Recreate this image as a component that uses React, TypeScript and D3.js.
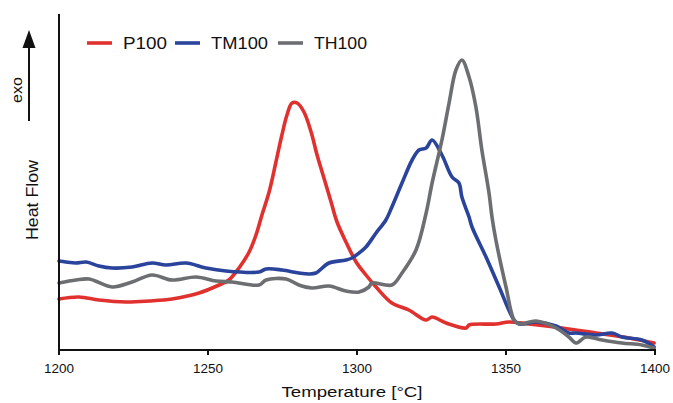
import React from "react";
import * as d3 from "d3";

// Temperature [°C] and heat flow (arbitrary units)
const p100T = [1200, 1206.7, 1213.4, 1222.5, 1230.2, 1237.9, 1247, 1253.7, 1257, 1260.4, 1263.8, 1266.1, 1268.1, 1270.5, 1272.8, 1274.8, 1276.5, 1278.2, 1279.9, 1282.2, 1284.6, 1286.6, 1288.9, 1291.3, 1293.3, 1296.3, 1299.7, 1303, 1306.4, 1311.7, 1317.4, 1323.2, 1325.2, 1329.9, 1336.6, 1337.6, 1346.6, 1351, 1357.7, 1368.8, 1380.2, 1391.3, 1399.7];
const p100V = [49, 51, 48, 46, 47, 49, 55, 63, 68, 80, 96, 113, 133, 156, 186, 213, 233, 245, 245, 236, 216, 193, 170, 146, 126, 106, 86, 73, 61, 45, 38, 28, 31, 25, 20, 23, 24, 26, 24, 20, 15, 10, 5];

const tm100T = [1200, 1202.3, 1205.7, 1209.1, 1213.4, 1217.8, 1224.5, 1231.2, 1235.9, 1242.6, 1249.3, 1256, 1267.1, 1269.5, 1274.8, 1280.5, 1283.9, 1286.2, 1290.6, 1296.3, 1298.3, 1300.7, 1303, 1306.4, 1309.7, 1311.7, 1315.1, 1318.5, 1320.8, 1323.2, 1325.2, 1328.5, 1331.9, 1334.2, 1335.2, 1337.6, 1338.6, 1343.3, 1347.7, 1352.7, 1354.4, 1360.1, 1366.8, 1371.1, 1373.5, 1380.2, 1385.6, 1388.9, 1395.6, 1399.7];
const tm100V = [87, 86, 85, 86, 82, 80, 81, 85, 83, 85, 80, 77, 76, 79, 78, 75, 74, 75, 85, 88, 90, 95, 101, 115, 128, 141, 165, 188, 198, 200, 208, 193, 171, 165, 151, 131, 121, 91, 61, 28, 24, 26, 22, 15, 15, 13, 15, 11, 8, 1];

const th100T = [1200, 1205.7, 1210.1, 1217.8, 1224.5, 1231.2, 1237.9, 1246, 1252.7, 1258.1, 1267.1, 1269.5, 1276.2, 1280.5, 1284.9, 1290.6, 1296.3, 1300.7, 1304, 1305, 1311.7, 1315.1, 1319.8, 1323.2, 1325.2, 1328.5, 1330.9, 1333.2, 1335.2, 1337.6, 1339.9, 1341.9, 1344.3, 1345.3, 1346.6, 1350, 1352.7, 1354.4, 1360.1, 1366.8, 1371.1, 1373.5, 1376.8, 1382.2, 1388.9, 1395.6, 1399.7];
const th100V = [65, 68, 69, 61, 66, 73, 68, 71, 67, 66, 63, 68, 69, 63, 60, 62, 57, 56, 61, 65, 63, 75, 98, 135, 165, 208, 245, 278, 288, 271, 241, 198, 155, 131, 108, 61, 28, 24, 27, 20, 11, 5, 11, 8, 5, 3, 0];

const seriesNames = ["P100", "TM100", "TH100"];
const seriesColors = ["#e0312f", "#2a449b", "#6c6e71"];
const xTicks = [1200, 1250, 1300, 1350, 1400];

export default function App() {
  const W = 673, H = 403;
  const left = 59, right = 655, top = 14, bottom = 350;
  const x = d3.scaleLinear().domain([1200, 1400]).range([left, right]);
  const y = d3.scaleLinear().domain([-2, 334]).range([bottom, top]);
  const line = d3
    .line<[number, number]>()
    .x((d) => x(d[0]))
    .y((d) => y(d[1]))
    .curve(d3.curveCatmullRom.alpha(0.5));

  const series = [
    d3.zip(p100T, p100V) as [number, number][],
    d3.zip(tm100T, tm100V) as [number, number][],
    d3.zip(th100T, th100V) as [number, number][],
  ];
  const drawOrder = [0, 1, 2];

  const legendX = [87, 175, 278];
  const legendTextLen = [44, 57, 53];
  const font = "'Liberation Sans', Arial, Helvetica, sans-serif";

  return (
    <svg width={W} height={H} style={{ position: "absolute", left: 0, top: 0, background: "#fff" }} fontFamily={font}>
      <rect x={0} y={0} width={W} height={H} fill="#fff" />
      {drawOrder.map((i) => (
        <path key={i} d={line(series[i]) || ""} fill="none" stroke={seriesColors[i]} strokeWidth={3.6} strokeLinejoin="round" strokeLinecap="round" />
      ))}
      {/* axes */}
      <line x1={left} y1={top} x2={left} y2={bottom} stroke="#111" strokeWidth={2} />
      <line x1={left - 1} y1={bottom} x2={right + 1} y2={bottom} stroke="#111" strokeWidth={2} />
      {xTicks.map((t) => (
        <g key={t}>
          <line x1={x(t)} y1={bottom} x2={x(t)} y2={bottom + 5} stroke="#111" strokeWidth={2} />
          <text x={x(t)} y={373} textAnchor="middle" fontSize={12.5} fill="#111" textLength={30} lengthAdjust="spacingAndGlyphs">
            {t}
          </text>
        </g>
      ))}
      <text x={352} y={397} textAnchor="middle" fontSize={15.5} fill="#111" textLength={141} lengthAdjust="spacingAndGlyphs">
        Temperature [°C]
      </text>
      <text transform="translate(38,200) rotate(-90)" textAnchor="middle" fontSize={16} fill="#111" textLength={80} lengthAdjust="spacingAndGlyphs">
        Heat Flow
      </text>
      <text transform="translate(22,90) rotate(-90)" textAnchor="middle" fontSize={15} fill="#111" textLength={26} lengthAdjust="spacingAndGlyphs">
        exo
      </text>
      <line x1={29} y1={121} x2={29} y2={44} stroke="#111" strokeWidth={2} />
      <path d="M29,30 L35.5,48 L22.5,48 Z" fill="#111" />
      {/* legend */}
      {seriesNames.map((n, i) => (
        <g key={n}>
          <line x1={legendX[i]} y1={43} x2={legendX[i] + 25} y2={43} stroke={seriesColors[i]} strokeWidth={3.6} />
          <text x={legendX[i] + 36} y={49} fontSize={16} fill="#111" textLength={legendTextLen[i]} lengthAdjust="spacingAndGlyphs">
            {n}
          </text>
        </g>
      ))}
    </svg>
  );
}
